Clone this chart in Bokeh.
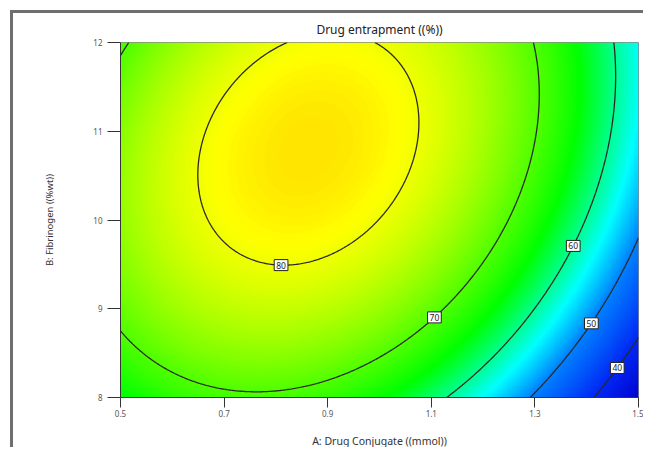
import numpy as np
from bokeh.plotting import figure
from bokeh.models import LinearColorMapper, FixedTicker, ColumnDataSource
from bokeh.core.properties import value
from bokeh.embed import file_html
from bokeh.resources import INLINE

# ---------------- data ----------------
title_text = "Drug entrapment ((%))"
x_label = "A: Drug Conjugate ((mmol))"
y_label = "B: Fibrinogen ((%wt))"

A_range = [0.5, 1.5]          # A: Drug Conjugate (mmol)
B_range = [8.0, 12.0]         # B: Fibrinogen (%wt)
x_ticks = [0.5, 0.7, 0.9, 1.1, 1.3, 1.5]
y_ticks = [8, 9, 10, 11, 12]

# quadratic response-surface model in coded factors
model_terms = ["Intercept", "A", "B", "AB", "A^2", "B^2"]
model_coefs = [79.95, -11.46, 7.23, 5.03, -17.19, -7.29]

contour_levels = [40, 50, 60, 70, 80]
label_at_A = [1.459, 1.409, 1.374, 1.106, 0.81]   # where each contour label sits

# colour scale stops (Design-Expert style blue -> cyan -> green -> yellow -> red)
stop_values = [31, 40, 50, 56, 65, 81, 100]
stop_colors = [(0, 0, 205), (0, 40, 245), (0, 130, 255), (0, 255, 255),
               (0, 255, 0), (255, 255, 0), (255, 0, 0)]


def coded(A, B):
    a = (A - (A_range[0] + A_range[1]) / 2) / ((A_range[1] - A_range[0]) / 2)
    b = (B - (B_range[0] + B_range[1]) / 2) / ((B_range[1] - B_range[0]) / 2)
    return a, b


def response(A, B):
    a, b = coded(A, B)
    c = model_coefs
    return c[0] + c[1] * a + c[2] * b + c[3] * a * b + c[4] * a * a + c[5] * b * b


# ---------------- surface ----------------
n = 400
A = np.linspace(A_range[0], A_range[1], n)
B = np.linspace(B_range[0], B_range[1], n)
AA, BB = np.meshgrid(A, B)
Z = response(AA, BB)

lo, hi = stop_values[0], stop_values[-1]
vals = np.linspace(lo, hi, 256)
palette = []
for v in vals:
    r = np.interp(v, stop_values, [s[0] for s in stop_colors])
    g = np.interp(v, stop_values, [s[1] for s in stop_colors])
    bl = np.interp(v, stop_values, [s[2] for s in stop_colors])
    palette.append("#%02x%02x%02x" % (int(round(r)), int(round(g)), int(round(bl))))
mapper = LinearColorMapper(palette=palette, low=lo, high=hi)

FONT = "Noto Sans"

p = figure(width=630, height=434, x_range=tuple(A_range), y_range=tuple(B_range),
           output_backend="svg", toolbar_location=None,
           min_border_left=107, min_border_right=8, min_border_top=29, min_border_bottom=50)
p.styles = {"margin-left": "10px", "margin-top": "10px",
            "box-sizing": "content-box", "overflow": "hidden",
            "border-left": "3px solid #6f6f6f", "border-top": "3px solid #6f6f6f"}

p.image(image=[Z], x=A_range[0], y=B_range[0], dw=A_range[1] - A_range[0],
        dh=B_range[1] - B_range[0], color_mapper=mapper)
p.contour(x=AA, y=BB, z=Z, levels=contour_levels, line_color="#2a2a2a", line_width=1.3)

# contour labels placed on the lines
lx, ly, lt = [], [], []
c = model_coefs
for lev, Ax in zip(contour_levels, label_at_A):
    a, _ = coded(Ax, B_range[0])
    qa = c[5]
    qb = c[2] + c[3] * a
    qc = c[0] + c[1] * a + c[4] * a * a - lev
    disc = np.sqrt(qb * qb - 4 * qa * qc)
    roots = [(-qb + disc) / (2 * qa), (-qb - disc) / (2 * qa)]
    b = min(roots)
    lx.append(Ax)
    ly.append((B_range[0] + B_range[1]) / 2 + b * (B_range[1] - B_range[0]) / 2)
    lt.append(str(lev))
src = ColumnDataSource(dict(x=lx, y=ly, t=lt))
p.text(x="x", y="y", text="t", source=src, text_align="center", text_baseline="middle",
       text_font=value(FONT), text_font_size="8.5px", text_color="#222222",
       background_fill_color="white", border_line_color="#222222", border_line_width=1,
       padding=2)

# ---------------- styling ----------------
p.title.text = title_text
p.title.align = "center"
p.title.text_font = FONT
p.title.text_font_size = "12px"
p.title.text_font_style = "normal"
p.title.text_color = "#222222"

p.grid.visible = False
p.outline_line_color = "#888888"
p.background_fill_color = "white"

p.xaxis.ticker = FixedTicker(ticks=x_ticks)
p.yaxis.ticker = FixedTicker(ticks=y_ticks)
for ax in (p.xaxis, p.yaxis):
    ax.major_tick_in = 0
    ax.minor_tick_in = 0
    ax.minor_tick_out = 0
    ax.axis_line_color = "#333333"
    ax.major_tick_line_color = "#333333"
    ax.major_label_text_font = FONT
    ax.major_label_text_font_size = "8px"
    ax.major_label_text_color = "#555555"
    ax.axis_label_text_font = FONT
    ax.axis_label_text_font_style = "normal"
    ax.axis_label_text_color = "#333333"
p.xaxis.major_tick_out = 10
p.yaxis.major_tick_out = 13
p.xaxis.major_label_standoff = 2
p.yaxis.major_label_standoff = 5
p.xaxis.axis_label = x_label
p.yaxis.axis_label = y_label
p.xaxis.axis_label_text_font_size = "10.5px"
p.yaxis.axis_label_text_font_size = "9.5px"
p.xaxis.axis_label_standoff = 14
p.yaxis.axis_label_standoff = 34

open("out.html", "w").write(file_html(p, INLINE))
